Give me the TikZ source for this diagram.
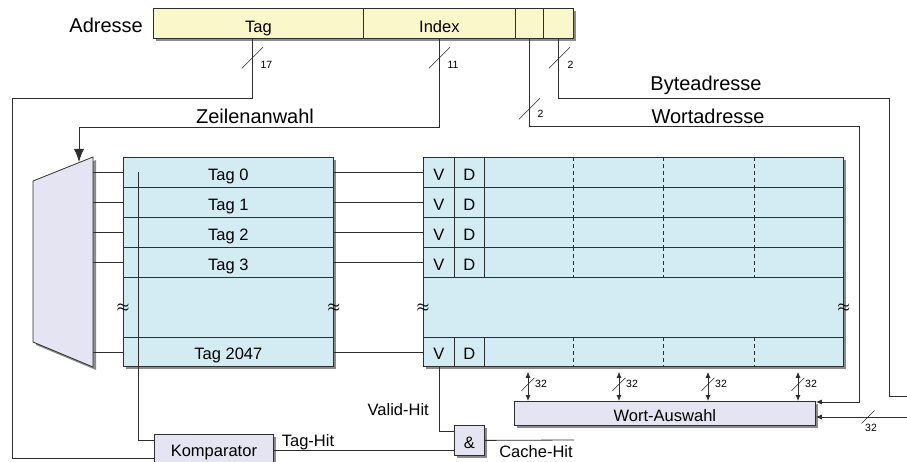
\documentclass[tikz,border=0pt]{standalone}
\usepackage{fontspec}
\setmainfont{Liberation Sans}
\usetikzlibrary{arrows.meta, shadows, calc}
\definecolor{adrY}{RGB}{250,248,202}
\definecolor{memB}{RGB}{211,236,243}
\definecolor{logL}{RGB}{229,228,242}
\tikzset{
  wire/.style={draw=black!82, line width=0.8pt},
  cutst/.style={draw=black!85, line width=0.6pt},
  shd/.style={drop shadow={shadow xshift=3pt, shadow yshift=-3pt, fill=black!45, opacity=1}},
  cell/.style={wire, inner sep=0pt, anchor=north west, text height=15.6pt, text depth=0pt,
    font=\fontsize{16.5}{18}\selectfont},
  field/.style={cell, fill=adrY, minimum height=30pt, text height=18pt},
  row/.style={cell, fill=memB},
  unit/.style={cell, fill=logL, shd},
  biglbl/.style={inner sep=0pt, font=\fontsize{20}{22}\selectfont},
  midlbl/.style={inner sep=0pt, font=\fontsize{16.5}{18}\selectfont},
  buslbl/.style={inner sep=0pt, font=\fontsize{10.5}{12}\selectfont},
  brk/.style={inner sep=0pt, font=\fontsize{14}{14}\selectfont\boldmath},
  tip/.style={-{Latex[length=6pt,width=5pt]}},
  bitip/.style={{Latex[length=6pt,width=5pt]}-{Latex[length=6pt,width=5pt]}},
}
% bus width mark: name, centre, width, label offset, half size
\newcommand{\buscut}[5]{%
  \draw[cutst] ($(#2)+(-#5,#5)$) -- ($(#2)+(#5,-#5)$);
  \node[buslbl, anchor=west] (#1) at ($(#2)+(#4)$) {#3};}

\begin{document}
\begin{tikzpicture}[x=1pt, y=-1pt]
\useasboundingbox (0,0) rectangle (907,462);

% address register
\node[anchor=north west, minimum width=420pt, minimum height=30pt, inner sep=0pt, fill=adrY, shd] (adr) at (153,8) {};
\node[field, minimum width=210pt] (tagf) at (153,8) {Tag};
\node[field, minimum width=152pt] (idxf) at (363,8) {Index};
\node[field, minimum width=28pt] (wortf) at (515,8) {};
\node[field, minimum width=30pt] (bytef) at (543,8) {};
\node[biglbl, anchor=east] (adrlbl) at (143,25) {Adresse};

% tag memory and data memory
\node[anchor=north west, minimum width=210pt, minimum height=209pt, inner sep=0pt, fill=memB, shd] (tagblk) at (123,157) {};
\node[anchor=north west, minimum width=420pt, minimum height=209pt, inner sep=0pt, fill=memB, shd] (datblk) at (423,157) {};

% row decoder
\draw[wire, fill=logL, shd] (33,181) -- (93,157) -- (93,367) -- (33,342) -- cycle;
\coordinate (muxR) at (93,157);
\coordinate (muxin) at (79,162);

\foreach \n/\y/\h in {0/157/30, 1/187/30, 2/217/30, 3/247/30, 2047/337/29}{
  \node[row, minimum width=210pt, minimum height=\h pt] (tag\n) at (123,\y) {Tag \n};
  \node[row, minimum width=31pt, minimum height=\h pt] (v\n) at (423,\y) {V};
  \node[row, minimum width=30pt, minimum height=\h pt] (d\n) at (454,\y) {D};
  \node[row, minimum width=359pt, minimum height=\h pt] (w\n) at (484,\y) {};
  \foreach \dx in {89,179,270}
    \draw[wire, dash pattern=on 4pt off 3pt] ([xshift=\dx pt]w\n.north west) -- ([xshift=\dx pt]w\n.south west);
  \draw[wire] (tag\n.west -| muxR) -- (tag\n.west);
  \draw[wire] (tag\n.east) -- (v\n.west);
}
\node[row, minimum width=210pt, minimum height=60pt] (tagdots) at (123,277) {};
\node[row, minimum width=420pt, minimum height=60pt] (datdots) at (423,277) {};
\node[brk] (brk1) at (tagdots.west) {$\approx$};
\node[brk] (brk2) at (tagdots.east) {$\approx$};
\node[brk] (brk3) at (datdots.west) {$\approx$};
\node[brk] (brk4) at (datdots.east) {$\approx$};

% comparator, and-gate, word select
\node[unit, minimum width=119pt, minimum height=28pt] (komp) at (154,434) {Komparator};
\node[unit, minimum width=30pt, minimum height=30pt] (andg) at (454,425) {\&};
\node[unit, minimum width=301pt, minimum height=24pt] (wsel) at (514,401) {Wort-Auswahl};

% address lines
\coordinate (tagL) at (12,98);
\coordinate (idxL) at (79,127);
\coordinate (wortR) at (859,126);
\coordinate (byteR) at (889,98);
\coordinate (byteout) at (907,396);
\coordinate (datain) at (907,417);
\coordinate (chout) at (574,440);
\draw[wire] ([xshift=-6pt]tagf.south) |- (tagL) |- ([yshift=4pt]komp.south west);
\draw[wire, -{Latex[length=13pt,width=10pt]}] (idxf.south) |- (idxL) -- (muxin);
\draw[wire, tip] (wortf.south) |- (wortR) |- ([yshift=-1pt]wsel.north east);
\draw[wire] (bytef.south) |- (byteR) |- (byteout);
\draw[wire, tip] (datain) -- (datain -| wsel.east);
\buscut{w17}{$(tagf.south)+(-6,19)$}{17}{8,7}{10.5}
\buscut{w11}{$(idxf.south)+(0,19)$}{11}{8,7}{10.5}
\buscut{wbyte}{$(bytef.south)+(1,19)$}{2}{8,7}{10.5}
\buscut{wwort}{$(wortf.south)+(0,70)$}{2}{8,5}{10.5}
\buscut{win}{$(datain -| 868,0)$}{32}{-3,11}{6.5}
\node[biglbl] (zlbl) at (255,116) {Zeilenanwahl};
\node[biglbl] (blbl) at (706,85) {Byteadresse};
\node[biglbl] (wlbl) at (708,116) {Wortadresse};

% hit logic
\draw[wire] ([xshift=15pt]tag0.west) |- ([yshift=-6pt]komp.north west);
\draw[wire] ([yshift=-2pt]komp.east) -- ([yshift=-2pt]komp.east -| andg.west);
\draw[wire] (v2047.south) |- ([yshift=9pt]andg.west);
\draw[wire] (andg.east) -- (chout);
\node[midlbl] (taghit) at (308,442) {Tag-Hit};
\node[midlbl, anchor=east] (validhit) at (429,410) {Valid-Hit};
\node[midlbl] (cachehit) at (536,452) {Cache-Hit};

% word paths
\foreach \k/\xo in {1/44, 2/135, 3/224, 4/314}{
  \coordinate (wc\k) at ($(w2047.south west)+(\xo,0)$);
  \draw[wire, bitip] ([yshift=-5pt]wc\k) -- (wc\k |- wsel.north);
  \buscut{b\k}{$(wc\k)+(0,17.5)$}{32}{7,0}{6.5}
}
\end{tikzpicture}
\end{document}
